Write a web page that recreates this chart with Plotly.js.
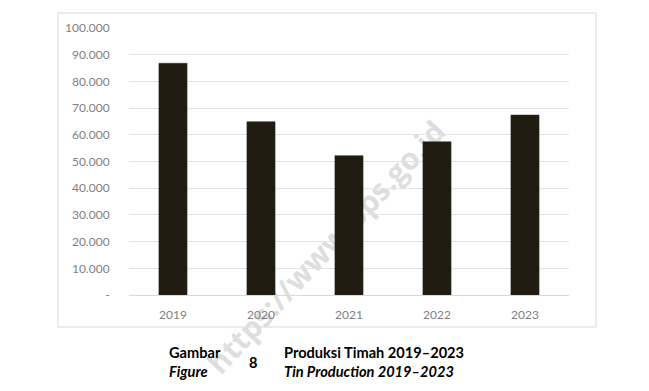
<!DOCTYPE html>
<html>
<head>
<meta charset="utf-8">
<script src="https://cdn.plot.ly/plotly-3.0.1.min.js"></script>
<style>
html,body{margin:0;padding:0;background:#fff;}
#wrap{position:relative;width:649px;height:391px;overflow:hidden;background:#fff;}
#chart{position:absolute;left:0;top:0;width:649px;height:391px;z-index:1;}
#wm{position:absolute;left:326px;top:247px;transform:translate(-50%,-50%) rotate(-47deg);
  font-family:"Open Sans",sans-serif;font-weight:700;font-size:30px;line-height:30px;color:#dedede;white-space:nowrap;z-index:0;}
</style>
</head>
<body>
<div id="wrap">
<div id="wm">https://www.bps.go.id</div>
<div id="chart"></div>
</div>
<script>
const years = ['2019', '2020', '2021', '2022', '2023'];
const production = [86800, 64900, 52200, 57400, 67400];
const yTickVals = [0, 10000, 20000, 30000, 40000, 50000, 60000, 70000, 80000, 90000, 100000];
const yTickText = ['-', '10.000', '20.000', '30.000', '40.000', '50.000', '60.000', '70.000', '80.000', '90.000', '100.000'];

const L = 129, R = 569, T = 28, B = 295, W = 649, H = 391;
const pw = R - L, ph = B - T;
const px = x => (x - L) / pw;
const py = y => (B - y) / ph;
const capFont = {family: 'Lato, "Open Sans", sans-serif', size: 14.6, color: '#000'};
const tickFont = {family: 'Lato, "Open Sans", sans-serif', size: 12, color: '#7f7f7f'};

const trace = {
  type: 'bar',
  x: years,
  y: production,
  marker: {color: '#201c12', line: {color: '#2a261c', width: 0.5}},
  hoverinfo: 'x+y'
};

const layout = {
  width: W, height: H,
  margin: {l: L, r: W - R, t: T, b: H - B, pad: 0},
  paper_bgcolor: 'rgba(0,0,0,0)', plot_bgcolor: 'rgba(0,0,0,0)',
  showlegend: false,
  bargap: 0.68,
  xaxis: {
    type: 'category',
    tickfont: tickFont,
    showgrid: false, showline: true, linecolor: '#d9d9d9', linewidth: 1,
    ticks: 'outside', ticklen: 9, tickcolor: 'rgba(0,0,0,0)'
  },
  yaxis: {
    range: [0, 100000],
    tickvals: yTickVals, ticktext: yTickText,
    tickfont: tickFont,
    showgrid: true, gridcolor: '#e3e3e3', gridwidth: 1,
    zeroline: false, showline: false, ticks: 'outside', ticklen: 16, tickcolor: 'rgba(0,0,0,0)'
  },
  shapes: [{
    type: 'rect', xref: 'paper', yref: 'paper',
    x0: px(58), x1: px(596), y0: py(327), y1: py(13),
    line: {color: '#d9d9d9', width: 1}, fillcolor: 'rgba(0,0,0,0)', layer: 'below'
  }],
  annotations: [
    {text: '<b>Gambar</b>', xref: 'paper', yref: 'paper', x: px(167), y: py(352), xanchor: 'left', yanchor: 'middle', showarrow: false, font: capFont},
    {text: '<b><i>Figure</i></b>', xref: 'paper', yref: 'paper', x: px(167), y: py(371), xanchor: 'left', yanchor: 'middle', showarrow: false, font: capFont},
    {text: '<b>8</b>', xref: 'paper', yref: 'paper', x: px(253), y: py(362), xanchor: 'center', yanchor: 'middle', showarrow: false, font: capFont},
    {text: '<b>Produksi Timah 2019–2023</b>', xref: 'paper', yref: 'paper', x: px(282), y: py(352), xanchor: 'left', yanchor: 'middle', showarrow: false, font: capFont},
    {text: '<b><i>Tin Production 2019–2023</i></b>', xref: 'paper', yref: 'paper', x: px(282), y: py(371), xanchor: 'left', yanchor: 'middle', showarrow: false, font: capFont}
  ]
};

Plotly.newPlot('chart', [trace], layout, {displayModeBar: false, staticPlot: true});
</script>
</body>
</html>
